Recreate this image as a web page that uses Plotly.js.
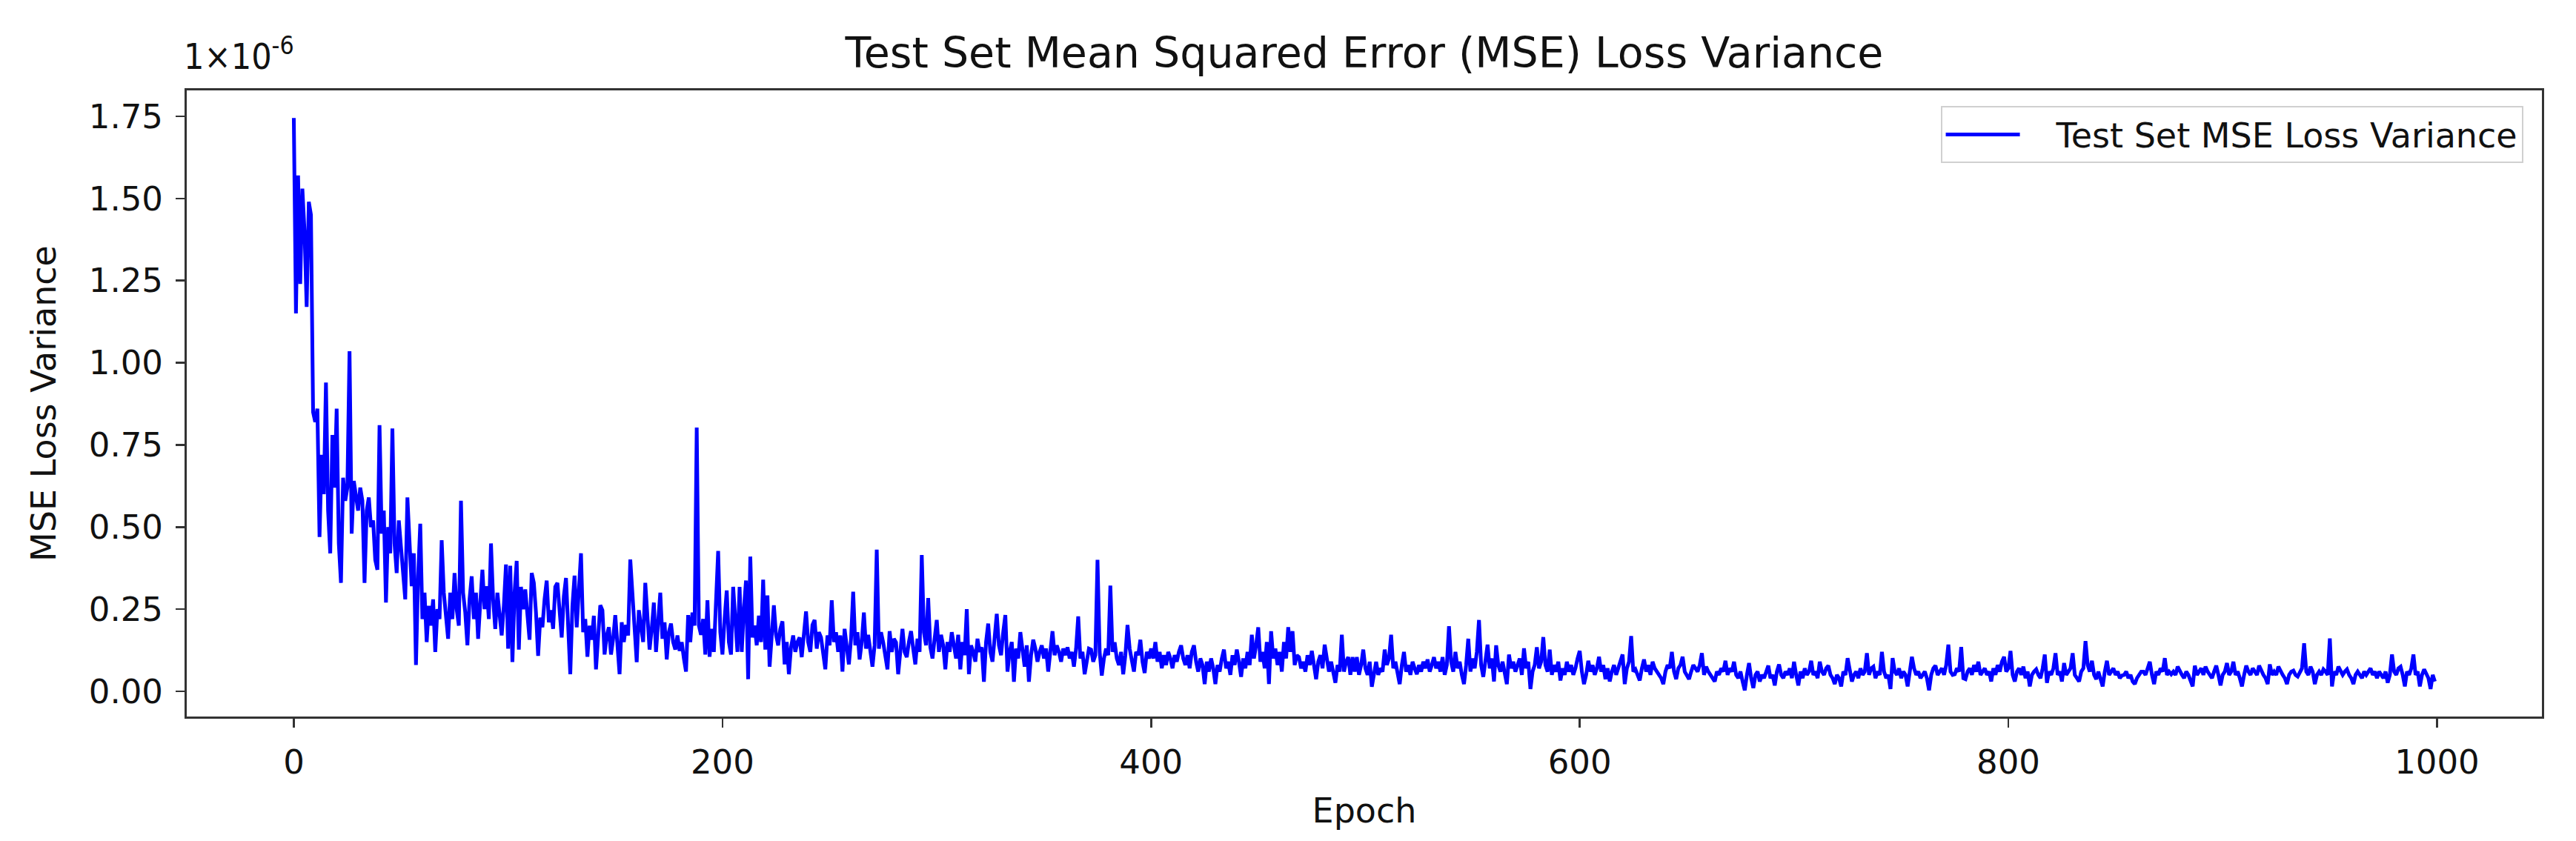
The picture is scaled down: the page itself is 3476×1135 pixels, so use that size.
<!DOCTYPE html>
<html>
<head>
<meta charset="utf-8">
<script src="https://cdn.plot.ly/plotly-3.0.1.min.js"></script>
<style>
html, body { margin: 0; padding: 0; background: #fff; }
#plot { width: 3476px; height: 1135px; }
</style>
</head>
<body>
<div id="plot"></div>
<script>
// test set MSE loss variance per epoch, in units of 1e-6
const mseVariance = [
  1.745, 1.15, 1.57, 1.24, 1.53, 1.40, 1.17, 1.49, 1.45, 0.85,
  0.82, 0.86, 0.47, 0.72, 0.60, 0.94, 0.55, 0.42, 0.78, 0.62,
  0.86, 0.45, 0.33, 0.65, 0.58, 0.62, 1.035, 0.48, 0.64, 0.60,
  0.55, 0.62, 0.58, 0.33, 0.55, 0.59, 0.50, 0.52, 0.40, 0.37,
  0.81, 0.48, 0.55, 0.27, 0.50, 0.42, 0.80, 0.45, 0.36, 0.52,
  0.44, 0.38, 0.28, 0.59, 0.45, 0.32, 0.42, 0.08, 0.35, 0.51,
  0.22, 0.30, 0.15, 0.26, 0.20, 0.28, 0.12, 0.25, 0.22, 0.46,
  0.30, 0.24, 0.16, 0.30, 0.22, 0.36, 0.25, 0.20, 0.58, 0.30,
  0.24, 0.14, 0.28, 0.35, 0.22, 0.30, 0.16, 0.27, 0.37, 0.25,
  0.32, 0.22, 0.45, 0.28, 0.19, 0.30, 0.24, 0.17, 0.26, 0.386,
  0.13, 0.382, 0.089, 0.30, 0.397, 0.127, 0.318, 0.25, 0.31, 0.22,
  0.157, 0.36, 0.33, 0.24, 0.108, 0.224, 0.195, 0.28, 0.337, 0.21,
  0.247, 0.19, 0.318, 0.33, 0.25, 0.164, 0.29, 0.345, 0.20, 0.052,
  0.26, 0.352, 0.195, 0.30, 0.42, 0.18, 0.22, 0.105, 0.20, 0.157,
  0.23, 0.067, 0.15, 0.262, 0.247, 0.112, 0.17, 0.195, 0.112, 0.16,
  0.232, 0.14, 0.052, 0.21, 0.15, 0.202, 0.17, 0.401, 0.285, 0.20,
  0.089, 0.247, 0.20, 0.15, 0.33, 0.22, 0.127, 0.19, 0.27, 0.12,
  0.22, 0.30, 0.16, 0.21, 0.097, 0.18, 0.206, 0.15, 0.127, 0.17,
  0.123, 0.15, 0.10, 0.06, 0.232, 0.15, 0.24, 0.20, 0.803, 0.20,
  0.172, 0.22, 0.112, 0.277, 0.105, 0.19, 0.12, 0.25, 0.427, 0.18,
  0.112, 0.22, 0.307, 0.15, 0.112, 0.318, 0.20, 0.12, 0.318, 0.12,
  0.25, 0.337, 0.037, 0.41, 0.164, 0.20, 0.14, 0.23, 0.15, 0.34,
  0.127, 0.292, 0.075, 0.18, 0.262, 0.172, 0.14, 0.19, 0.213, 0.082,
  0.15, 0.052, 0.134, 0.17, 0.12, 0.15, 0.164, 0.104, 0.18, 0.243,
  0.15, 0.12, 0.202, 0.217, 0.13, 0.18, 0.164, 0.12, 0.067, 0.17,
  0.14, 0.277, 0.15, 0.18, 0.12, 0.17, 0.06, 0.19, 0.13, 0.082,
  0.16, 0.303, 0.14, 0.18, 0.097, 0.15, 0.24, 0.13, 0.172, 0.12,
  0.075, 0.14, 0.431, 0.13, 0.18, 0.149, 0.10, 0.067, 0.183, 0.12,
  0.16, 0.149, 0.052, 0.14, 0.19, 0.12, 0.104, 0.15, 0.183, 0.13,
  0.082, 0.16, 0.12, 0.415, 0.18, 0.14, 0.284, 0.134, 0.10, 0.16,
  0.217, 0.12, 0.172, 0.14, 0.067, 0.15, 0.12, 0.18, 0.14, 0.10,
  0.172, 0.067, 0.15, 0.11, 0.25, 0.052, 0.14, 0.12, 0.09, 0.16,
  0.12, 0.134, 0.029, 0.15, 0.206, 0.12, 0.09, 0.17, 0.236, 0.14,
  0.11, 0.18, 0.232, 0.06, 0.12, 0.15, 0.029, 0.13, 0.10, 0.18,
  0.12, 0.075, 0.14, 0.029, 0.11, 0.157, 0.13, 0.09, 0.12, 0.14,
  0.10, 0.13, 0.06, 0.12, 0.183, 0.11, 0.14, 0.12, 0.09, 0.13,
  0.11, 0.134, 0.10, 0.12, 0.075, 0.13, 0.228, 0.10, 0.12, 0.052,
  0.10, 0.13, 0.127, 0.09, 0.11, 0.40, 0.12, 0.048, 0.10, 0.13,
  0.11, 0.322, 0.12, 0.149, 0.10, 0.08, 0.12, 0.052, 0.11, 0.202,
  0.13, 0.09, 0.06, 0.12, 0.11, 0.157, 0.09, 0.056, 0.12, 0.10,
  0.13, 0.10, 0.15, 0.09, 0.12, 0.07, 0.11, 0.08, 0.12, 0.10,
  0.07, 0.11, 0.09, 0.12, 0.14, 0.10, 0.08, 0.11, 0.07, 0.12,
  0.14, 0.09, 0.06, 0.10, 0.08, 0.022, 0.09, 0.06, 0.10, 0.07,
  0.022, 0.08, 0.06, 0.10, 0.127, 0.07, 0.09, 0.05, 0.11, 0.08,
  0.127, 0.09, 0.044, 0.10, 0.07, 0.12, 0.08, 0.172, 0.10, 0.14,
  0.195, 0.09, 0.12, 0.07, 0.15, 0.022, 0.183, 0.10, 0.13, 0.08,
  0.12, 0.06, 0.15, 0.10, 0.195, 0.12, 0.183, 0.08, 0.11, 0.104,
  0.07, 0.09, 0.06, 0.11, 0.08, 0.123, 0.07, 0.037, 0.09, 0.11,
  0.07, 0.142, 0.10, 0.06, 0.09, 0.05, 0.026, 0.08, 0.06, 0.172,
  0.06, 0.09, 0.104, 0.05, 0.104, 0.06, 0.104, 0.05, 0.08, 0.127,
  0.07, 0.05, 0.09, 0.014, 0.06, 0.09, 0.05, 0.07, 0.06, 0.127,
  0.08, 0.10, 0.172, 0.07, 0.09, 0.05, 0.022, 0.08, 0.12, 0.06,
  0.08, 0.05, 0.09, 0.07, 0.052, 0.08, 0.06, 0.09, 0.07, 0.097,
  0.06, 0.08, 0.104, 0.07, 0.09, 0.06, 0.104, 0.05, 0.08, 0.198,
  0.09, 0.06, 0.12, 0.07, 0.09, 0.05, 0.022, 0.08, 0.16, 0.06,
  0.10, 0.07, 0.12, 0.217, 0.08, 0.044, 0.09, 0.142, 0.07, 0.10,
  0.03, 0.14, 0.08, 0.06, 0.09, 0.05, 0.022, 0.112, 0.07, 0.09,
  0.06, 0.08, 0.10, 0.05, 0.131, 0.07, 0.09, 0.007, 0.06, 0.08,
  0.134, 0.07, 0.09, 0.165, 0.08, 0.06, 0.127, 0.05, 0.08, 0.06,
  0.09, 0.033, 0.07, 0.05, 0.09, 0.06, 0.08, 0.05, 0.07, 0.10,
  0.123, 0.06, 0.022, 0.05, 0.093, 0.06, 0.08, 0.05, 0.07, 0.105,
  0.06, 0.08, 0.037, 0.07, 0.03, 0.06, 0.08, 0.05, 0.07, 0.09,
  0.112, 0.022, 0.07, 0.09, 0.168, 0.06, 0.067, 0.05, 0.033, 0.07,
  0.097, 0.06, 0.08, 0.05, 0.09, 0.07, 0.06, 0.05, 0.04, 0.022,
  0.06, 0.08, 0.07, 0.12, 0.06, 0.037, 0.07, 0.08, 0.105, 0.06,
  0.05, 0.037, 0.06, 0.08, 0.07, 0.06, 0.08, 0.116, 0.05, 0.075,
  0.06, 0.05, 0.04, 0.03, 0.06, 0.05, 0.07, 0.06, 0.093, 0.05,
  0.07, 0.06, 0.09, 0.05, 0.04, 0.06, 0.03, 0.003, 0.05, 0.086,
  0.04, 0.01, 0.05, 0.06, 0.03, 0.05, 0.04, 0.06, 0.078, 0.04,
  0.05, 0.018, 0.06, 0.082, 0.05, 0.04, 0.06, 0.05, 0.07, 0.04,
  0.09, 0.05, 0.018, 0.06, 0.04, 0.07, 0.05, 0.06, 0.093, 0.05,
  0.06, 0.04, 0.09, 0.06, 0.05, 0.07, 0.078, 0.05, 0.04, 0.022,
  0.05, 0.04, 0.015, 0.06, 0.05, 0.101, 0.06, 0.03, 0.05, 0.06,
  0.04, 0.07, 0.05, 0.06, 0.116, 0.05, 0.07, 0.075, 0.04, 0.06,
  0.05, 0.12, 0.06, 0.04, 0.05, 0.007, 0.101, 0.06, 0.05, 0.07,
  0.04, 0.06, 0.05, 0.015, 0.06, 0.105, 0.07, 0.05, 0.06, 0.04,
  0.05, 0.06, 0.04, 0.003, 0.05, 0.07, 0.078, 0.05, 0.06, 0.07,
  0.05, 0.08, 0.142, 0.06, 0.05, 0.052, 0.07, 0.06, 0.135, 0.04,
  0.037, 0.06, 0.07, 0.05, 0.08, 0.06, 0.09, 0.05, 0.06, 0.07,
  0.05, 0.06, 0.03, 0.07, 0.05, 0.08, 0.06, 0.09, 0.105, 0.06,
  0.07, 0.123, 0.05, 0.03, 0.06, 0.07, 0.05, 0.075, 0.04, 0.06,
  0.015, 0.05, 0.06, 0.067, 0.05, 0.04, 0.07, 0.112, 0.026, 0.06,
  0.05, 0.07, 0.116, 0.05, 0.06, 0.03, 0.086, 0.05, 0.06, 0.07,
  0.116, 0.05, 0.04, 0.03, 0.06, 0.07, 0.153, 0.08, 0.06, 0.093,
  0.05, 0.037, 0.06, 0.04, 0.015, 0.06, 0.093, 0.05, 0.06, 0.07,
  0.05, 0.06, 0.04, 0.048, 0.05, 0.06, 0.04, 0.05, 0.03, 0.022,
  0.04, 0.05, 0.06, 0.06, 0.05, 0.07, 0.09, 0.05, 0.022, 0.06,
  0.05, 0.07, 0.06, 0.101, 0.05, 0.06, 0.052, 0.06, 0.05, 0.075,
  0.06, 0.05, 0.04, 0.06, 0.05, 0.03, 0.015, 0.078, 0.05, 0.06,
  0.07, 0.05, 0.075, 0.06, 0.05, 0.04, 0.06, 0.078, 0.05, 0.018,
  0.05, 0.06, 0.086, 0.05, 0.06, 0.09, 0.05, 0.06, 0.04, 0.015,
  0.05, 0.078, 0.06, 0.05, 0.07, 0.06, 0.05, 0.078, 0.06, 0.05,
  0.04, 0.022, 0.082, 0.05, 0.06, 0.05, 0.075, 0.06, 0.05, 0.04,
  0.022, 0.05, 0.06, 0.063, 0.05, 0.045, 0.06, 0.07, 0.146, 0.06,
  0.05, 0.075, 0.06, 0.022, 0.05, 0.06, 0.05, 0.067, 0.06, 0.05,
  0.161, 0.015, 0.06, 0.05, 0.075, 0.06, 0.05, 0.06, 0.067, 0.05,
  0.04, 0.022, 0.05, 0.06, 0.05, 0.04, 0.06, 0.05, 0.06, 0.07,
  0.05, 0.06, 0.04, 0.06, 0.05, 0.04, 0.06, 0.026, 0.05, 0.112,
  0.06, 0.05, 0.07, 0.075, 0.05, 0.015, 0.06, 0.05, 0.07, 0.112,
  0.05, 0.06, 0.015, 0.05, 0.067, 0.05, 0.04, 0.007, 0.05, 0.03
];
const epochs = mseVariance.map((v, i) => i);

const xTicks = [0, 200, 400, 600, 800, 1000];
const yTicks = [0, 0.25, 0.5, 0.75, 1.0, 1.25, 1.5, 1.75];

const trace = {
    x: epochs,
    y: mseVariance,
    // non-breaking spaces keep a gap between the legend line and its text
    name: '\u00a0\u00a0\u00a0Test Set MSE Loss Variance',
    type: 'scatter',
    mode: 'lines',
    line: {color: '#0000ff', width: 5}
};

var axisStyle = {
    showline: true,
    mirror: true,
    linecolor: '#333',
    linewidth: 3,
    ticks: 'outside',
    ticklen: 12,
    tickwidth: 2.5,
    tickcolor: '#333',
    ticklabelstandoff: 8,
    showgrid: false,
    zeroline: false
};

var layout = {
    width: 3476,
    height: 1135,
    margin: {l: 252, r: 46, t: 122, b: 168},
    paper_bgcolor: '#fff',
    plot_bgcolor: '#fff',
    font: {family: 'DejaVu Sans', size: 45, color: '#111'},
    title: {
        text: 'Test Set Mean Squared Error (MSE) Loss Variance',
        font: {size: 57},
        xref: 'paper', x: 0.5, xanchor: 'center',
        yref: 'container', y: 0.937, yanchor: 'middle'
    },
    xaxis: Object.assign({}, axisStyle, {
        range: [-49.95, 1048.95],
        tickvals: xTicks,
        title: {text: 'Epoch', font: {size: 46}, standoff: 24}
    }),
    yaxis: Object.assign({}, axisStyle, {
        range: [-0.0767, 1.829],
        tickvals: yTicks,
        tickformat: '.2f',
        title: {text: 'MSE Loss Variance', font: {size: 46}, standoff: 30}
    }),
    showlegend: true,
    legend: {
        x: 0.992, y: 0.975, xanchor: 'right', yanchor: 'top',
        bgcolor: 'rgba(255,255,255,0.8)',
        bordercolor: '#d0d0d0',
        borderwidth: 2,
        itemwidth: 100,
        font: {size: 46}
    },
    annotations: [{
        text: '1×10<sup>-6</sup>',
        xref: 'paper', yref: 'paper',
        x: 0, y: 1, xanchor: 'left', yanchor: 'bottom',
        xshift: -6, yshift: 16,
        showarrow: false,
        font: {family: 'Liberation Sans Narrow, DejaVu Sans Condensed, DejaVu Sans', size: 48}
    }]
};

Plotly.newPlot('plot', [trace], layout, {displayModeBar: false, staticPlot: true});
</script>
</body>
</html>
